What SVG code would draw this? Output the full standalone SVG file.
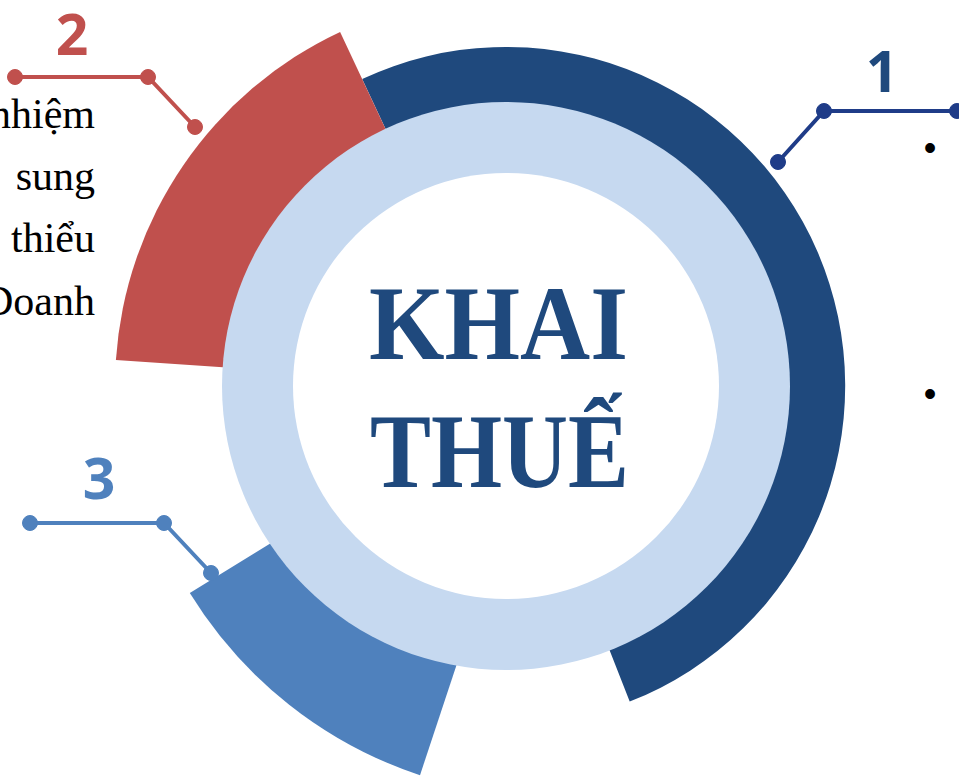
<svg xmlns="http://www.w3.org/2000/svg" width="959" height="776" viewBox="0 0 959 776">
<style>
.num{font-family:"Open Sans","Liberation Sans",sans-serif;font-weight:700;font-size:57px;text-anchor:middle}
.side{font-family:"Liberation Serif","Times New Roman",serif;font-size:42px;fill:#000;text-anchor:end}
.title{font-family:"Liberation Serif","Times New Roman",serif;font-weight:700;font-size:106px;fill:#1F497D}
.bullet{font-family:"Liberation Sans",Arial,sans-serif;font-size:36px;fill:#000;text-anchor:middle}
.c2{stroke:#C0504D;fill:#C0504D}
.c1{stroke:#1F3C88;fill:#1F3C88}
.c3{stroke:#4F81BD;fill:#4F81BD}
.ln{fill:none;stroke-width:4}
</style>
<rect width="959" height="776" fill="#FFFFFF"/>
<g id="ring">
  <path id="seg1" d="M506,386 L362.2,79 A339,339 0 1 1 629.7,701.6 Z" fill="#1F497D"/>
  <path id="seg2" d="M506,386 L115.9,360.1 A391,391 0 0 1 340.1,31.9 Z" fill="#C0504D"/>
  <path id="seg3" d="M555,368 L420,775.2 A429,429 0 0 1 189.8,593.1 Z" fill="#4F81BD"/>
  <circle cx="506" cy="386" r="284" fill="#C6D9F0"/>
  <circle cx="506" cy="386" r="213" fill="#FFFFFF"/>
</g>
<g id="center-title">
  <text class="title" x="369" y="359" textLength="259" lengthAdjust="spacingAndGlyphs">KHAI</text>
  <text class="title" x="370" y="487" textLength="259" lengthAdjust="spacingAndGlyphs">THUẾ</text>
</g>
<g id="connectors">
  <g id="conn2" class="c2">
    <polyline class="ln" points="15,77 148,77 195,127"/>
    <circle cx="15" cy="77" r="7.5"/>
    <circle cx="148" cy="77" r="7.5"/>
    <circle cx="195" cy="127" r="7.5"/>
  </g>
  <g id="conn1" class="c1">
    <polyline class="ln" points="778,162 824,111 957,111"/>
    <circle cx="778" cy="162" r="7.5"/>
    <circle cx="824" cy="111" r="7.5"/>
    <circle cx="957" cy="111" r="7.5"/>
  </g>
  <g id="conn3" class="c3">
    <polyline class="ln" points="30,523 164,523 211,573"/>
    <circle cx="30" cy="523" r="7.5"/>
    <circle cx="164" cy="523" r="7.5"/>
    <circle cx="211" cy="573" r="7.5"/>
  </g>
</g>
<g id="label2">
  <text class="num" x="72" y="55" fill="#C0504D">2</text>
  <text class="side" x="95" y="128">nhiệm</text>
  <text class="side" x="95" y="190">sung</text>
  <text class="side" x="95" y="252">thiểu</text>
  <text class="side" x="95" y="315">Doanh</text>
</g>
<g id="label1">
  <text class="num" x="882" y="92" fill="#1F497D">1</text>
  <text class="bullet" x="930" y="160">•</text>
  <text class="bullet" x="930" y="406">•</text>
</g>
<g id="label3">
  <text class="num" x="99" y="499" fill="#4F81BD">3</text>
</g>
</svg>
